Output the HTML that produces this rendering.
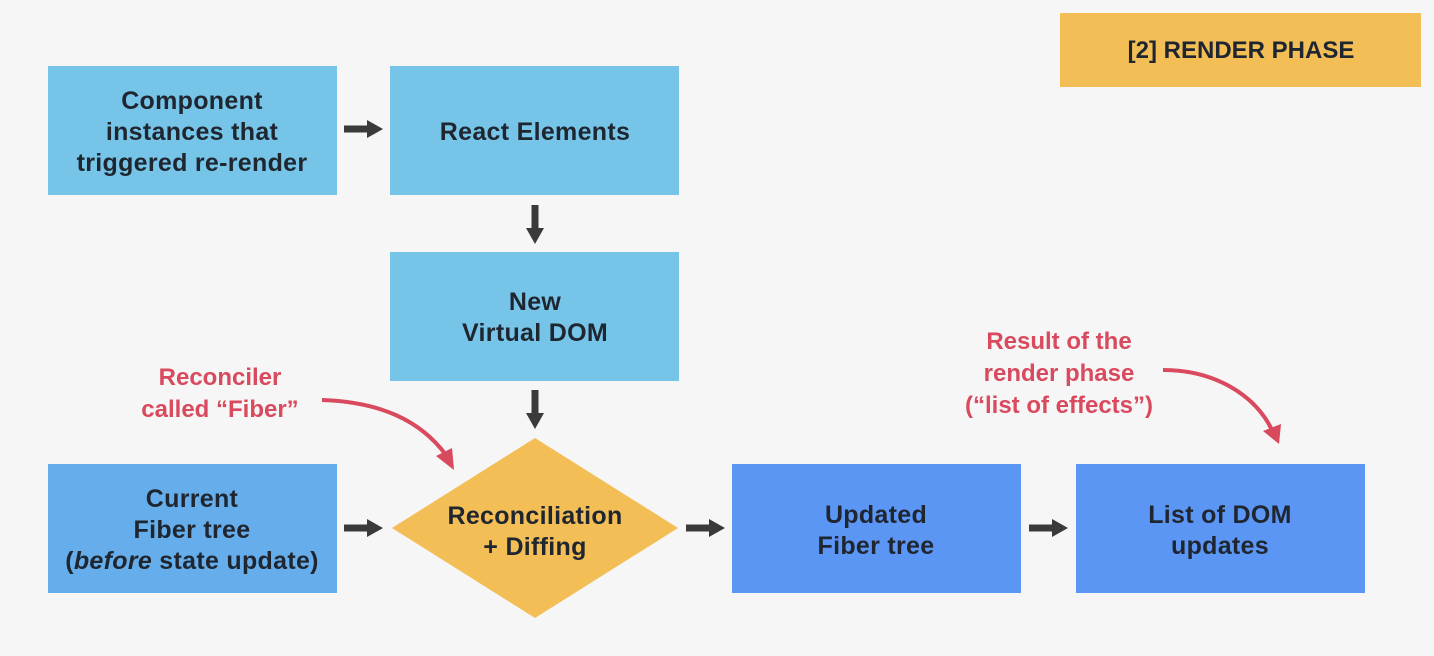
<!DOCTYPE html>
<html><head><meta charset="utf-8"><style>
html,body{margin:0;padding:0;background:#f6f6f6;}
svg{display:block}
text{font-family:"Liberation Sans",sans-serif;font-weight:bold;}
</style></head><body>
<svg width="1434" height="656" viewBox="0 0 1434 656" xmlns="http://www.w3.org/2000/svg">
<rect width="1434" height="656" fill="#f6f6f6"/>
<defs>
<g id="ah"><rect x="0" y="-3.5" width="25" height="7" fill="#3a3a3a"/><polygon points="23,-9 39,0 23,9" fill="#3a3a3a"/></g>
</defs>
<rect x="1060" y="13" width="361" height="74" fill="#f2be55"/>
<text x="1241" y="58" font-size="24" fill="#1f2630" text-anchor="middle">[2] RENDER PHASE</text>
<rect x="48" y="66" width="289" height="129" fill="#76c5e8"/>
<rect x="390" y="66" width="289" height="129" fill="#76c5e8"/>
<rect x="390" y="252" width="289" height="129" fill="#76c5e8"/>
<rect x="48" y="464" width="289" height="129" fill="#65aeeb"/>
<rect x="732" y="464" width="289" height="129" fill="#5b96f5"/>
<rect x="1076" y="464" width="289" height="129" fill="#5b96f5"/>
<polygon points="535,438 678,528 535,618 392,528" fill="#f2be55"/>
<g font-size="25" fill="#1f2630" text-anchor="middle" letter-spacing="0.3">
<text x="192" y="109">Component</text>
<text x="192" y="140">instances that</text>
<text x="192" y="171">triggered re-render</text>
<text x="535" y="140">React Elements</text>
<text x="535" y="310">New</text>
<text x="535" y="341">Virtual DOM</text>
<text x="192" y="507">Current</text>
<text x="192" y="538">Fiber tree</text>
<text x="192" y="569">(<tspan font-style="italic">before</tspan> state update)</text>
<text x="535" y="524">Reconciliation</text>
<text x="535" y="555">+ Diffing</text>
<text x="876" y="523">Updated</text>
<text x="876" y="554">Fiber tree</text>
<text x="1220" y="523">List of DOM</text>
<text x="1220" y="554">updates</text>
</g>
<g font-size="24" fill="#d94a5e" text-anchor="middle">
<text x="220" y="385">Reconciler</text>
<text x="220" y="417">called “Fiber”</text>
<text x="1059" y="349">Result of the</text>
<text x="1059" y="381">render phase</text>
<text x="1059" y="413">(“list of effects”)</text>
</g>
<use href="#ah" transform="translate(344,129)"/>
<use href="#ah" transform="translate(535,205) rotate(90)"/>
<use href="#ah" transform="translate(535,390) rotate(90)"/>
<use href="#ah" transform="translate(344,528)"/>
<use href="#ah" transform="translate(686,528)"/>
<use href="#ah" transform="translate(1029,528)"/>
<path d="M322,400 C380,402 420,420 446,455" fill="none" stroke="#d94a5e" stroke-width="4"/>
<polygon points="436,456 454,470 452,448" fill="#d94a5e"/>
<path d="M1163,370 C1215,370 1255,395 1272,430" fill="none" stroke="#d94a5e" stroke-width="4"/>
<polygon points="1263,431 1279,444 1281,424" fill="#d94a5e"/>
</svg>
</body></html>
